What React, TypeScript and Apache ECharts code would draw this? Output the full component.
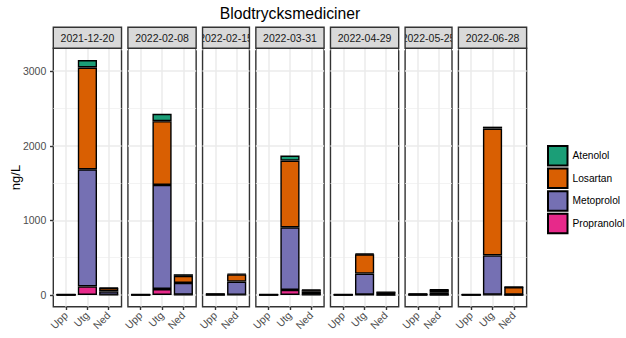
import React, { useEffect, useRef } from 'react';
import * as echarts from 'echarts';

const TITLE = 'Blodtrycksmediciner';
const Y_NAME = 'ng/L';
const panelDates = ['2021-12-20', '2022-02-08', '2022-02-15', '2022-03-31', '2022-04-29', '2022-05-25', '2022-06-28'];
const panelCats = [
  ['Upp', 'Utg', 'Ned'],
  ['Upp', 'Utg', 'Ned'],
  ['Upp', 'Ned'],
  ['Upp', 'Utg', 'Ned'],
  ['Upp', 'Utg', 'Ned'],
  ['Upp', 'Ned'],
  ['Upp', 'Utg', 'Ned'],
];
const legendOrder = ['Atenolol', 'Losartan', 'Metoprolol', 'Propranolol'];
// values per panel, per category (order of panelCats)
const atenolol = [[2, 100, 5], [2, 100, 22], [3, 8], [2, 67, 5], [2, 10, 3], [3, 3], [2, 27, 3]];
const losartan = [[3, 1365, 45], [3, 855, 95], [5, 95], [3, 895, 22], [3, 258, 25], [5, 38], [3, 1700, 100]];
const metoprolol = [[3, 1570, 45], [3, 1395, 158], [8, 178], [3, 840, 40], [3, 282, 12], [7, 30], [3, 527, 5]];
const propranolol = [[0, 115, 2], [0, 80, 3], [0, 2], [0, 67, 3], [0, 5, 0], [0, 0], [0, 3, 0]];
const yTicks = [0, 1000, 2000, 3000];
const yMinorTicks = [500, 1500, 2500];

const drugSeries = [
  { name: 'Propranolol', color: '#E7298A', values: propranolol },
  { name: 'Metoprolol', color: '#7570B3', values: metoprolol },
  { name: 'Losartan', color: '#D95F02', values: losartan },
  { name: 'Atenolol', color: '#1B9E77', values: atenolol },
];

export default function App() {
  const ref = useRef<HTMLDivElement>(null);
  useEffect(() => {
    const chart = echarts.init(ref.current!, null, { renderer: 'svg' });
    const FONT = 'Liberation Sans, Arial, sans-serif';
    const unit = 21.32;
    const gap = 6.4;
    const left0 = 53.3;
    const top = 48.3;
    const height = 258.4;
    const stripTop = 27.3;
    const stripH = 21;
    const n = panelCats.length;
    const lefts: number[] = [];
    const widths: number[] = [];
    let xx = left0;
    panelCats.forEach((c) => {
      const w = (c.length + 0.2) * unit;
      lefts.push(xx);
      widths.push(w);
      xx += w + gap;
    });

    let maxTotal = 0;
    panelCats.forEach((cats, i) => {
      cats.forEach((_, j) => {
        const s = drugSeries.reduce((a, d) => a + d.values[i][j], 0);
        if (s > maxTotal) maxTotal = s;
      });
    });
    const yMin = -0.05 * maxTotal;
    const yMax = 1.05 * maxTotal;

    const grids: any[] = [];
    lefts.forEach((l, i) => {
      grids.push({
        left: l,
        top,
        width: widths[i],
        height,
        show: true,
        borderColor: '#333333',
        borderWidth: 1.4,
        backgroundColor: '#ffffff',
        containLabel: false,
        outerBoundsMode: 'none',
      });
    });
    lefts.forEach((l, i) => {
      grids.push({
        left: l + 0.1 * unit,
        top,
        width: panelCats[i].length * unit,
        height,
        show: false,
        containLabel: false,
        outerBoundsMode: 'none',
      });
    });

    const xAxes: any[] = [];
    panelCats.forEach((cats, i) => {
      const pos = cats.map((_, j) => j + 1);
      xAxes.push({
        type: 'value',
        gridIndex: i,
        min: 0.4,
        max: cats.length + 0.6,
        axisLine: { show: false, onZero: false },
        axisTick: { show: true, customValues: pos, length: 3.3, lineStyle: { color: '#333333', width: 1.4 } },
        axisLabel: {
          customValues: pos,
          formatter: (v: number) => cats[Math.round(v) - 1] ?? '',
          rotate: 45,
          fontSize: 10.5,
          color: '#4D4D4D',
          margin: 7,
          fontFamily: FONT,
        },
        splitLine: { show: true, lineStyle: { color: '#EBEBEB', width: 1.5 } },
      });
    });
    panelCats.forEach((cats, i) => {
      xAxes.push({
        type: 'category',
        gridIndex: n + i,
        data: cats,
        show: false,
        axisLine: { show: false },
        axisTick: { show: false },
        axisLabel: { show: false },
        splitLine: { show: false },
      });
    });

    const yAxes: any[] = [];
    panelCats.forEach((_, i) => {
      yAxes.push({
        type: 'value',
        gridIndex: i,
        min: yMin,
        max: yMax,
        position: 'left',
        axisLine: { show: false, onZero: false },
        axisTick: { show: i === 0, customValues: yTicks, length: 3.3, lineStyle: { color: '#333333', width: 1.4 } },
        axisLabel: {
          show: i === 0,
          customValues: yTicks,
          formatter: (v: number) => String(v),
          fontSize: 10.5,
          color: '#4D4D4D',
          margin: 7,
          fontFamily: FONT,
        },
        splitLine: { show: true, lineStyle: { color: '#EBEBEB', width: 1.5 } },
      });
    });
    panelCats.forEach((_, i) => {
      yAxes.push({
        type: 'value',
        gridIndex: i,
        min: yMin,
        max: yMax,
        position: 'right',
        axisLine: { show: false, onZero: false },
        axisTick: { show: false, customValues: yMinorTicks },
        axisLabel: { show: false, customValues: yMinorTicks },
        splitLine: { show: true, lineStyle: { color: '#F0F0F0', width: 0.8 } },
      });
    });
    panelCats.forEach((_, i) => {
      yAxes.push({
        type: 'value',
        gridIndex: n + i,
        min: yMin,
        max: yMax,
        show: false,
        axisLine: { show: false, onZero: false },
        axisTick: { show: false },
        axisLabel: { show: false },
        splitLine: { show: false },
      });
    });

    const series: any[] = [];
    panelCats.forEach((cats, i) => {
      drugSeries.forEach((d) => {
        series.push({
          type: 'bar',
          name: d.name,
          xAxisIndex: n + i,
          yAxisIndex: 2 * n + i,
          stack: 'p' + i,
          barWidth: 0.9 * unit,
          data: cats.map((_, j) => d.values[i][j]),
          itemStyle: { color: d.color, borderColor: '#000000', borderWidth: 1.4 },
          emphasis: { disabled: true },
          silent: true,
        });
      });
    });

    const graphics: any[] = [];
    graphics.push({
      type: 'text',
      x: (lefts[0] + lefts[n - 1] + widths[n - 1]) / 2,
      y: 13,
      z: 10,
      style: {
        text: TITLE,
        fill: '#000000',
        fontSize: 15.7,
        fontFamily: FONT,
        align: 'center',
        verticalAlign: 'middle',
        textAlign: 'center',
        textVerticalAlign: 'middle',
      },
    });
    graphics.push({
      type: 'text',
      x: 15,
      y: top + height / 2,
      rotation: Math.PI / 2,
      z: 10,
      style: {
        text: Y_NAME,
        fill: '#000000',
        fontSize: 13,
        fontFamily: FONT,
        align: 'center',
        verticalAlign: 'middle',
        textAlign: 'center',
        textVerticalAlign: 'middle',
      },
    });
    panelDates.forEach((dt, i) => {
      graphics.push({
        type: 'rect',
        z: 10,
        shape: { x: lefts[i], y: stripTop, width: widths[i], height: stripH },
        style: { fill: '#D9D9D9', stroke: 'none' },
      });
      graphics.push({
        type: 'text',
        z: 11,
        x: lefts[i] + widths[i] / 2,
        y: stripTop + stripH / 2,
        style: {
          text: dt,
          fill: '#1A1A1A',
          fontSize: 10.5,
          fontFamily: FONT,
          align: 'center',
          verticalAlign: 'middle',
          textAlign: 'center',
          textVerticalAlign: 'middle',
        },
      });
      if (i < n - 1) {
        graphics.push({
          type: 'rect',
          z: 12,
          shape: { x: lefts[i] + widths[i], y: stripTop - 2, width: lefts[i + 1] - lefts[i] - widths[i], height: stripH + 4 },
          style: { fill: '#ffffff', stroke: 'none' },
        });
      }
      graphics.push({
        type: 'rect',
        z: 13,
        shape: { x: lefts[i], y: stripTop, width: widths[i], height: stripH },
        style: { fill: 'none', stroke: '#333333', lineWidth: 1.4 },
      });
    });

    chart.setOption({
      animation: false,
      backgroundColor: '#ffffff',
      grid: grids,
      xAxis: xAxes,
      yAxis: yAxes,
      series,
      legend: {
        data: legendOrder,
        orient: 'vertical',
        left: 542,
        top: 140,
        itemWidth: 19.5,
        itemHeight: 19.5,
        itemGap: 1.1,
        icon: 'rect',
        selectedMode: false,
        textStyle: { fontSize: 10.2, color: '#000000', fontFamily: FONT },
      },
      graphic: graphics,
    });
    return () => chart.dispose();
  }, []);
  return <div ref={ref} style={{ position: 'absolute', left: 0, top: 0, width: 626, height: 338 }} />;
}
